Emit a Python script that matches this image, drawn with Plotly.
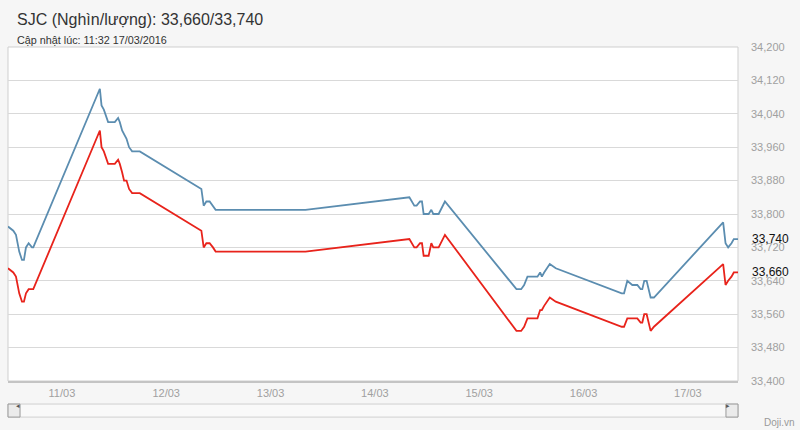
import plotly.graph_objects as go

times = [
    "2016-03-10 11:36", "2016-03-10 12:49", "2016-03-10 13:26", "2016-03-10 14:11",
    "2016-03-10 14:49", "2016-03-10 15:16", "2016-03-10 15:44", "2016-03-10 16:21",
    "2016-03-10 17:07", "2016-03-10 17:25",
    "2016-03-11 08:44", "2016-03-11 09:07", "2016-03-11 09:39", "2016-03-11 10:02",
    "2016-03-11 10:38", "2016-03-11 11:15", "2016-03-11 12:10", "2016-03-11 12:56",
    "2016-03-11 13:19", "2016-03-11 13:51", "2016-03-11 14:18", "2016-03-11 14:52",
    "2016-03-11 15:27", "2016-03-11 16:09", "2016-03-11 17:55",
    "2016-03-12 08:05", "2016-03-12 08:37", "2016-03-12 09:14", "2016-03-12 09:59",
    "2016-03-12 10:45", "2016-03-12 11:22", "2016-03-12 11:40",
    "2016-03-13 08:02",
    "2016-03-14 07:56", "2016-03-14 08:33", "2016-03-14 09:04", "2016-03-14 09:36",
    "2016-03-14 10:23", "2016-03-14 10:50", "2016-03-14 11:13", "2016-03-14 12:22",
    "2016-03-14 12:59", "2016-03-14 13:26", "2016-03-14 14:40", "2016-03-14 16:07",
    "2016-03-15 08:34", "2016-03-15 09:11", "2016-03-15 09:39", "2016-03-15 10:20",
    "2016-03-15 11:06", "2016-03-15 13:24", "2016-03-15 14:01", "2016-03-15 14:25",
    "2016-03-15 14:56", "2016-03-15 16:14", "2016-03-15 17:37",
    "2016-03-16 08:47", "2016-03-16 09:19", "2016-03-16 10:04", "2016-03-16 11:13",
    "2016-03-16 12:22", "2016-03-16 13:08", "2016-03-16 13:31", "2016-03-16 13:58",
    "2016-03-16 14:31", "2016-03-16 15:26", "2016-03-16 16:12",
    "2016-03-17 08:07", "2016-03-17 08:40", "2016-03-17 09:16", "2016-03-17 10:02",
    "2016-03-17 10:34", "2016-03-17 11:32",
]

sell = [
    33770, 33760, 33750, 33710, 33690, 33690, 33720, 33730, 33720, 33720,
    34100, 34060, 34050, 34040, 34020, 34020, 34020, 34030, 34020, 34000,
    33990, 33980, 33960, 33950, 33950,
    33860, 33820, 33830, 33830, 33820, 33810, 33810,
    33810,
    33840, 33830, 33820, 33820, 33830, 33830, 33800, 33800, 33810, 33800,
    33800, 33830,
    33620, 33620, 33620, 33630, 33650, 33650, 33660, 33650, 33660, 33680, 33670,
    33610, 33610, 33640, 33630, 33630, 33620, 33620, 33640, 33640, 33600, 33600,
    33780, 33730, 33720, 33730, 33740, 33740,
]

buy = [
    33670, 33660, 33650, 33610, 33590, 33590, 33610, 33620, 33620, 33620,
    34000, 33960, 33950, 33940, 33920, 33920, 33920, 33930, 33920, 33900,
    33880, 33880, 33860, 33850, 33850,
    33760, 33720, 33730, 33730, 33720, 33710, 33710,
    33710,
    33740, 33730, 33720, 33720, 33730, 33730, 33700, 33700, 33730, 33720,
    33720, 33750,
    33520, 33520, 33520, 33530, 33550, 33550, 33570, 33570, 33580, 33600, 33590,
    33530, 33530, 33550, 33550, 33550, 33540, 33540, 33560, 33560, 33520, 33530,
    33680, 33630, 33640, 33650, 33660, 33660,
]

day_ticks = ["2016-03-11", "2016-03-12", "2016-03-13", "2016-03-14",
             "2016-03-15", "2016-03-16", "2016-03-17"]
day_labels = ["11/03", "12/03", "13/03", "14/03", "15/03", "16/03", "17/03"]
y_ticks = [33400, 33480, 33560, 33640, 33720, 33800, 33880, 33960, 34040, 34120, 34200]

title_text = "SJC (Nghìn/lượng): 33,660/33,740"
subtitle_text = "Cập nhật lúc: 11:32 17/03/2016"

FONT = "Liberation Sans, Arial, sans-serif"
BG = "#f6f6f6"

fig = go.Figure()
fig.add_trace(go.Scatter(x=times, y=sell, mode="lines",
                         line=dict(color="#5b8db0", width=1.8), name="Bán",
                         hoverinfo="x+y"))
fig.add_trace(go.Scatter(x=times, y=buy, mode="lines",
                         line=dict(color="#e8231b", width=1.8), name="Mua",
                         hoverinfo="x+y"))

fig.update_layout(
    width=800, height=430, autosize=False,
    margin=dict(l=8, r=62, t=47, b=49),
    paper_bgcolor=BG, plot_bgcolor="#ffffff",
    showlegend=False,
    font=dict(family=FONT, color="#333333"),
    xaxis=dict(
        type="date", range=[times[0], times[-1]],
        tickvals=day_ticks, ticktext=day_labels,
        showgrid=False, zeroline=False,
        showline=True, linecolor="#c4c4c4", linewidth=2,
        ticks="", ticklabelstandoff=1,
        tickfont=dict(size=11, color="#a0a0a0", family=FONT),
    ),
    yaxis=dict(
        side="right", range=[33400, 34200],
        tickvals=y_ticks, tickformat=",d",
        showgrid=True, gridcolor="#d9d9d9", gridwidth=1,
        zeroline=False, showline=False,
        ticks="", ticklabelstandoff=12,
        tickfont=dict(size=11, color="#a0a0a0", family=FONT),
    ),
)

# plot frame
fig.add_shape(type="rect", xref="paper", yref="paper", x0=0, x1=1, y0=0, y1=1,
              line=dict(color="#cfcfcf", width=1), fillcolor="rgba(0,0,0,0)",
              layer="below")

# navigator scrollbar (decorative)
fig.add_shape(type="rect", xref="paper", yref="paper", x0=0, x1=1,
              y0=-0.108, y1=-0.069, line=dict(color="#d0d0d0", width=1),
              fillcolor="#f9f9f9")
fig.add_shape(type="rect", xref="paper", yref="paper", x0=0, x1=0.0165,
              y0=-0.108, y1=-0.069, line=dict(color="#9a9a9a", width=1),
              fillcolor="#ebebeb")
fig.add_shape(type="rect", xref="paper", yref="paper", x0=0.9835, x1=1,
              y0=-0.108, y1=-0.069, line=dict(color="#9a9a9a", width=1),
              fillcolor="#ebebeb")
fig.add_annotation(xref="paper", yref="paper", x=0.0082, y=-0.0885, text="◂",
                   showarrow=False, font=dict(size=7, color="#555"))
fig.add_annotation(xref="paper", yref="paper", x=0.9918, y=-0.0885, text="▸",
                   showarrow=False, font=dict(size=7, color="#555"))

# last value labels
fig.add_annotation(xref="paper", yref="y", x=1, y=sell[-1], xshift=12,
                   xanchor="left", text=f"{sell[-1]:,}", showarrow=False,
                   font=dict(size=12, color="#111111", family=FONT))
fig.add_annotation(xref="paper", yref="y", x=1, y=buy[-1], xshift=12,
                   xanchor="left", text=f"{buy[-1]:,}", showarrow=False,
                   font=dict(size=12, color="#111111", family=FONT))

# titles
fig.add_annotation(xref="paper", yref="paper", x=0.0096, y=1.081,
                   xanchor="left", yanchor="middle", text=title_text,
                   showarrow=False, font=dict(size=16, color="#333333", family=FONT))
fig.add_annotation(xref="paper", yref="paper", x=0.0096, y=1.021,
                   xanchor="left", yanchor="middle", text=subtitle_text,
                   showarrow=False, font=dict(size=10.8, color="#333333", family=FONT))

# credit
fig.add_annotation(xref="paper", yref="paper", x=1.0575, y=-0.123,
                   xanchor="center", yanchor="middle", text="Doji.vn",
                   showarrow=False, font=dict(size=10, color="#999999", family=FONT))

fig.write_html(
    "out.html",
    config={"displayModeBar": False},
    post_script=("document.body.style.margin='0';"
                 "document.body.style.background='" + BG + "';"
                 "document.body.style.overflow='hidden';"),
)
